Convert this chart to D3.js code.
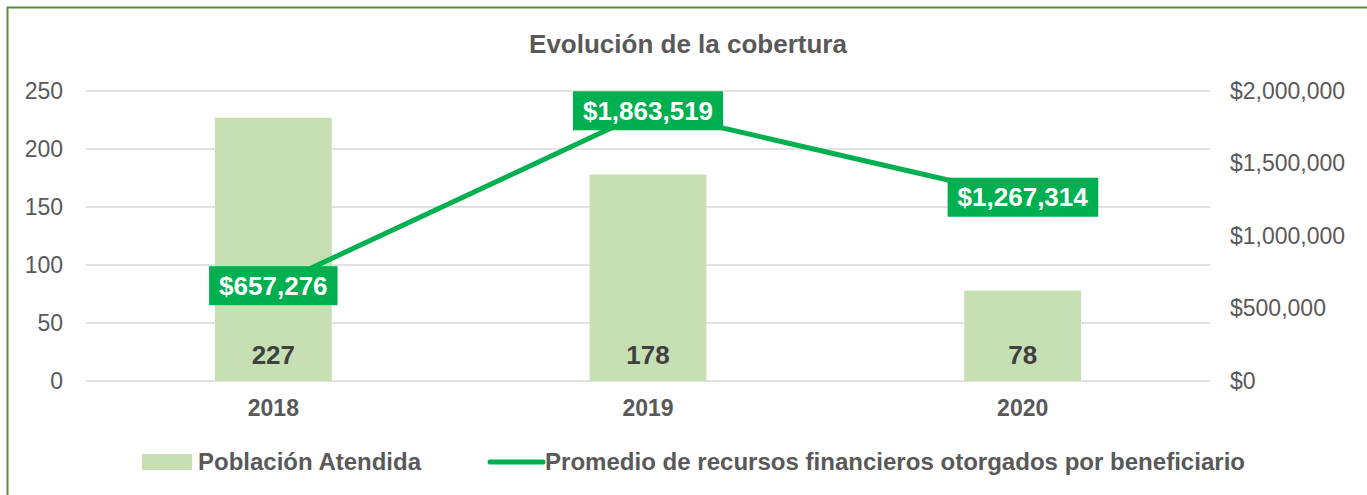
<!DOCTYPE html>
<html>
<head>
<meta charset="utf-8">
<script src="https://cdn.jsdelivr.net/npm/d3@7"></script>
<style>
  body { margin: 0; background: #fff; }
  svg { display: block; font-family: "Liberation Sans", Arial, sans-serif; }
</style>
</head>
<body>
<svg width="1367" height="495"></svg>
<script>
var years = ["2018", "2019", "2020"];
var poblacion = [227, 178, 78];
var promedio = [657276, 1863519, 1267314];
var leftTicks = [0, 50, 100, 150, 200, 250];
var rightTicks = [0, 500000, 1000000, 1500000, 2000000];
var seriesNames = ["Población Atendida", "Promedio de recursos financieros otorgados por beneficiario"];

var svg = d3.select("svg");
var textColor = "#595959",
    barColor = "#c6e0b4",
    lineColor = "#00b050";

// frame (only top/left visible in the crop)
svg.append("rect")
  .attr("x", 7.5).attr("y", 7.5)
  .attr("width", 1370).attr("height", 500)
  .attr("fill", "none")
  .attr("stroke", "#5a8a3c")
  .attr("stroke-width", 2);

var x = d3.scaleBand()
  .domain(years)
  .range([86, 1210])
  .padding(0);

var y = d3.scaleLinear().domain([0, 250]).range([381, 91]);
var y2 = d3.scaleLinear().domain([0, 2000000]).range([381, 91]);

var barW = x.bandwidth() * 0.312;

// gridlines
svg.append("g")
  .selectAll("line")
  .data(leftTicks)
  .enter().append("line")
    .attr("x1", 86).attr("x2", 1210)
    .attr("y1", function(d) { return y(d); })
    .attr("y2", function(d) { return y(d); })
    .attr("stroke", "#d9d9d9")
    .attr("stroke-width", 1.5);

// left axis
var gl = svg.append("g")
  .attr("transform", "translate(63,0)")
  .call(d3.axisLeft(y).tickValues(leftTicks).tickSize(0).tickPadding(0));
gl.select(".domain").remove();
gl.selectAll("text")
  .attr("fill", textColor)
  .style("font-size", "23px")
  .style("font-family", "Liberation Sans, Arial, sans-serif");

// right axis
var gr = svg.append("g")
  .attr("transform", "translate(1230,0)")
  .call(d3.axisRight(y2).tickValues(rightTicks).tickSize(0).tickPadding(0)
    .tickFormat(function(d) { return "$" + d3.format(",")(d); }));
gr.select(".domain").remove();
gr.selectAll("text")
  .attr("fill", textColor)
  .style("font-size", "23px")
  .style("font-family", "Liberation Sans, Arial, sans-serif");

// x axis labels
var gx = svg.append("g")
  .attr("transform", "translate(0,392)")
  .call(d3.axisBottom(x).tickSize(0).tickPadding(8));
gx.select(".domain").remove();
gx.selectAll("text")
  .attr("fill", textColor)
  .style("font-size", "23px")
  .style("font-weight", "bold")
  .style("font-family", "Liberation Sans, Arial, sans-serif");

// bars
svg.append("g")
  .selectAll("rect")
  .data(years)
  .enter().append("rect")
    .attr("x", function(d) { return x(d) + x.bandwidth() / 2 - barW / 2; })
    .attr("y", function(d, i) { return y(poblacion[i]); })
    .attr("width", barW)
    .attr("height", function(d, i) { return y(0) - y(poblacion[i]); })
    .attr("fill", barColor);

// bar values
svg.append("g")
  .selectAll("text")
  .data(years)
  .enter().append("text")
    .attr("x", function(d) { return x(d) + x.bandwidth() / 2; })
    .attr("y", 364)
    .attr("text-anchor", "middle")
    .attr("fill", "#404040")
    .style("font-size", "26px")
    .style("font-weight", "bold")
    .text(function(d, i) { return poblacion[i]; });

// line
var line = d3.line()
  .x(function(d, i) { return x(years[i]) + x.bandwidth() / 2; })
  .y(function(d) { return y2(d); });

svg.append("path")
  .datum(promedio)
  .attr("d", line)
  .attr("fill", "none")
  .attr("stroke", lineColor)
  .attr("stroke-width", 5)
  .attr("stroke-linejoin", "round");

// line labels
var lbl = svg.append("g")
  .selectAll("g")
  .data(promedio)
  .enter().append("g")
    .attr("transform", function(d, i) {
      return "translate(" + (x(years[i]) + x.bandwidth() / 2) + "," + y2(d) + ")";
    });

lbl.append("text")
  .attr("text-anchor", "middle")
  .attr("y", 9)
  .attr("fill", "#fff")
  .style("font-size", "26px")
  .style("font-weight", "bold")
  .text(function(d) { return "$" + d3.format(",")(d); });

lbl.each(function() {
  var g = d3.select(this);
  var bb = g.select("text").node().getBBox();
  g.insert("rect", "text")
    .attr("x", bb.x - 10)
    .attr("y", -19.5)
    .attr("width", bb.width + 20)
    .attr("height", 39)
    .attr("fill", lineColor);
});

// title
svg.append("text")
  .attr("x", 688)
  .attr("y", 53)
  .attr("text-anchor", "middle")
  .attr("fill", textColor)
  .style("font-size", "26px")
  .style("font-weight", "bold")
  .text("Evolución de la cobertura");

// legend
var lg = svg.append("g");
lg.append("rect")
  .attr("x", 142).attr("y", 454)
  .attr("width", 50).attr("height", 16)
  .attr("fill", barColor);
lg.append("text")
  .attr("x", 198).attr("y", 470)
  .attr("fill", textColor)
  .style("font-size", "24px")
  .style("font-weight", "bold")
  .attr("textLength", 223)
  .attr("lengthAdjust", "spacingAndGlyphs")
  .text(seriesNames[0]);
lg.append("line")
  .attr("x1", 490).attr("x2", 543)
  .attr("y1", 462).attr("y2", 462)
  .attr("stroke", lineColor)
  .attr("stroke-width", 5)
  .attr("stroke-linecap", "round");
lg.append("text")
  .attr("x", 545).attr("y", 470)
  .attr("fill", textColor)
  .style("font-size", "24px")
  .style("font-weight", "bold")
  .attr("textLength", 700)
  .attr("lengthAdjust", "spacingAndGlyphs")
  .text(seriesNames[1]);
</script>
</body>
</html>
